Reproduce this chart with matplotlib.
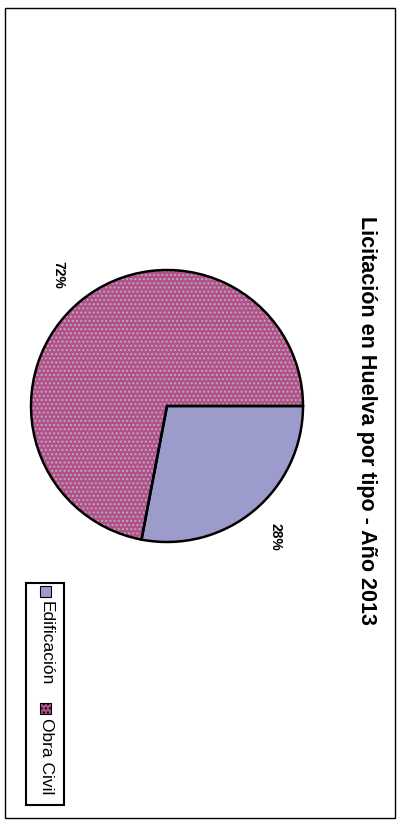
import matplotlib.pyplot as plt
from matplotlib.patches import Rectangle

plt.rcParams['font.family'] = ['Liberation Sans', 'DejaVu Sans']

title = 'Licitación en Huelva por tipo - Año 2013'
categories = ['Edificación', 'Obra Civil']
shares = [28, 72]
colors = ['#9c9ccc', '#b44e8c']
hatch_col = '#b0b0b0'

W, H = 401, 825
fig = plt.figure(figsize=(W / 100, H / 100), dpi=100)
ax = fig.add_axes([0, 0, 1, 1])

# outer frame
ax.add_patch(Rectangle((5, 7), 390, 810, fill=False, ec='black', lw=1))

cx, cy, r = 167, H - 406, 136

# fill layer (Obra Civil gets speckled hatch)
wedges, _ = ax.pie(shares, colors=colors, startangle=0, counterclock=False,
                   center=(cx, cy), radius=r,
                   wedgeprops=dict(lw=0, ec=hatch_col), frame=True)
wedges[1].set_hatch('....')
# outline layer with labels
w2, _, pct = ax.pie(shares, colors=['none', 'none'], startangle=0, counterclock=False,
                    center=(cx, cy), radius=r, autopct='%1.0f%%', pctdistance=1.25,
                    wedgeprops=dict(lw=1.8, ec='black', fill=False), frame=True,
                    textprops=dict(fontsize=10, fontweight='bold'))
for t in pct:
    t.set_rotation(-90)
ax.set_xlim(0, W)
ax.set_ylim(0, H)
ax.set_aspect('equal')
ax.axis('off')

# title (rotated)
ax.text(366, H - 420, title, rotation=-90, ha='center', va='center',
        fontsize=15.5, fontweight='bold')

# legend (rotated)
ax.add_patch(Rectangle((26, H - 805), 38, 222, fill=False, ec='black', lw=1.5))
ys = [H - 591, H - 708]
for cat, col, y, hatch in zip(categories, colors, ys, [None, '....']):
    ax.add_patch(Rectangle((40, y - 6), 11, 11, fc=col, ec='black', lw=0.8, hatch=hatch))
    ax.text(46, y - 10, cat, rotation=-90, ha='center', va='top', fontsize=12.5)

plt.savefig('out.png', dpi=100)
